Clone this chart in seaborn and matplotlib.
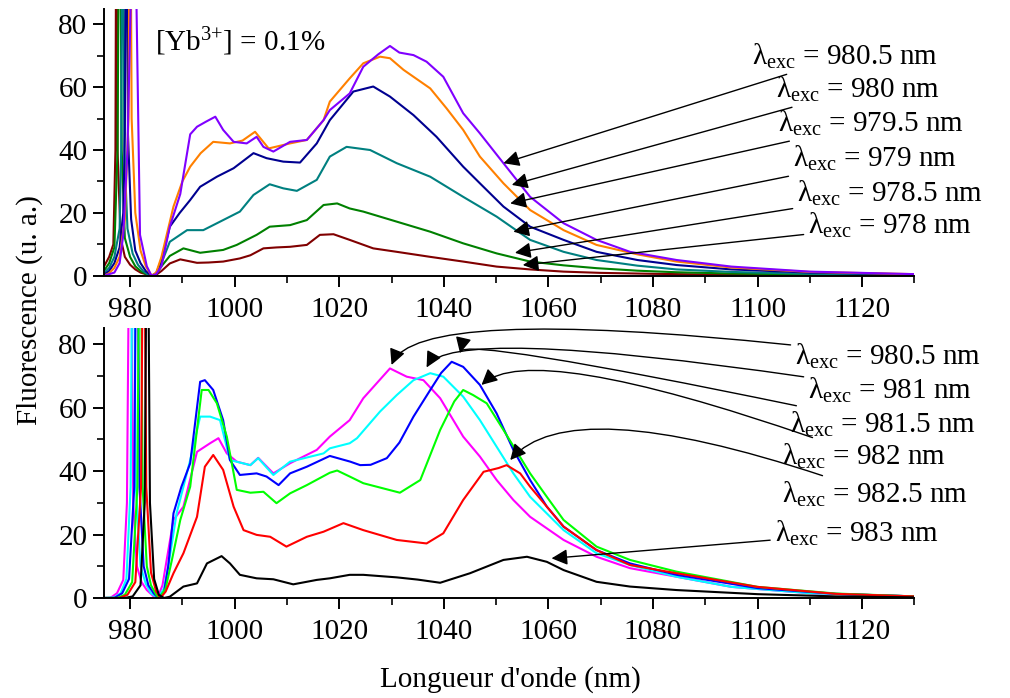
import numpy as np
import pandas as pd
import seaborn as sns
import matplotlib
matplotlib.use("Agg")
import matplotlib.pyplot as plt
from matplotlib.ticker import MultipleLocator

# ---------------- data ----------------
# Top panel: [Yb3+] = 0.1 %, excitation 978 ... 980.5 nm
top_labels = ["978", "978.5", "979", "979.5", "980", "980.5"]
top_colors = ["#800000", "#008000", "#008080", "#000090", "#FF8000", "#8000FF"]

wl_978 = [975, 976, 976.8, 977.2, 977.4, 977.6, 978.2, 979, 980, 981, 982, 983, 984, 985, 986, 987,
          987.6, 989.6, 992.8, 995, 997.8, 1001, 1003, 1005.5, 1008, 1010.6, 1013.8, 1016.3, 1018.9,
          1022, 1026.5, 1031, 1037.4, 1043.7, 1050.1, 1056.5, 1062.9, 1070, 1080, 1090, 1100, 1115, 1130]
fl_978 = [2.9, 6, 10, 40, 150, 40, 12, 6, 3.5, 2, 1, 0.5, 0, 0.3, 1.5, 3,
          3.9, 5.2, 4.1, 4.2, 4.5, 5.5, 6.5, 8.7, 9, 9.2, 9.8, 13, 13.2,
          11.4, 8.7, 7.6, 6, 4.5, 2.9, 2, 1.3, 0.9, 0.6, 0.4, 0.3, 0.2, 0.1]

wl_9785 = [975, 976, 977, 977.6, 978, 978.4, 979, 980, 981, 982, 983, 984.1, 985, 986, 987.6, 990.2,
           993.4, 997.8, 1000.4, 1004.2, 1006.7, 1010.6, 1013.8, 1017, 1019.6, 1022, 1024.6, 1031,
           1037.4, 1043.7, 1050.1, 1056.5, 1062.9, 1069.2, 1077, 1084.5, 1095, 1110, 1130]
fl_9785 = [1.5, 4, 9, 40, 150, 40, 12, 6, 3, 1.5, 0.6, 0, 0.5, 3, 6.3, 8.7,
           7.3, 8.2, 9.8, 13, 15.6, 16.1, 17.7, 22.5, 23, 21.4, 20.4, 17.2,
           14, 10.3, 7.1, 4.5, 3.3, 2.4, 1.6, 1.1, 0.7, 0.4, 0.2]

wl_979 = [975, 976, 977, 978, 978.3, 978.6, 978.9, 979.5, 980.5, 981.5, 982.5, 983.3, 984.1, 985, 986,
          987.6, 990.9, 994, 997.8, 1001, 1003.6, 1006.7, 1009.3, 1011.9, 1015.7, 1018.2, 1021.4,
          1025.9, 1031, 1037.4, 1043.7, 1050.1, 1056.5, 1062.9, 1069.2, 1077, 1084.5, 1095, 1110, 1130]
fl_979 = [0.8, 2.5, 6, 15, 40, 150, 40, 15, 7, 3.5, 1.5, 0.5, 0, 0.8, 4,
          10.8, 14.5, 14.5, 17.7, 20.4, 25.7, 29.1, 27.8, 27, 30.5, 37.9, 41,
          40, 35.8, 31.5, 25.1, 18.8, 11.4, 7.6, 5, 3.2, 2, 1.2, 0.6, 0.3]

wl_9795 = [975, 976, 977, 978, 978.7, 979, 979.3, 979.6, 980.2, 981, 982, 983, 984.1, 985, 986, 987.6,
           989.5, 991.5, 993.4, 996.6, 999.8, 1003.6, 1006.1, 1009.3, 1012.5, 1015.7, 1018.2, 1022.7,
           1026.5, 1029.7, 1034.2, 1038.6, 1043.7, 1046.9, 1051.4, 1056.5, 1062.9, 1069.2, 1077,
           1084.5, 1095, 1110, 1130]
fl_9795 = [0.3, 1.5, 4, 9, 20, 45, 150, 45, 18, 8, 4, 1.5, 0, 0.8, 5, 15.6,
           20, 24.1, 28.3, 31.5, 34.2, 39, 37.4, 36.3, 36, 42.1, 49.5, 58.6,
           60.2, 57, 51.1, 44.2, 34.7, 29.4, 22, 15.6, 11.4, 7.6, 5,
           3.4, 2, 1, 0.4]

wl_980 = [975, 976, 977, 978, 979, 979.7, 980, 980.3, 981, 982, 983, 984.1, 985, 986, 987, 988.3, 990,
          991.5, 993.5, 995.9, 999.1, 1001.5, 1003.9, 1006.5, 1010.6, 1013.8, 1017, 1018.2, 1022,
          1024.6, 1027.8, 1029.7, 1032.3, 1037.4, 1040.5, 1043.7, 1046.9, 1051.4, 1056.5, 1062.9,
          1069.2, 1077, 1084.5, 1095, 1110, 1130]
fl_980 = [0, 0.8, 2.5, 6, 18, 50, 150, 50, 20, 8, 3, 0, 1, 6, 13, 22, 30,
          34.7, 39, 42.6, 42.1, 43, 45.8, 40.5, 42.1, 43.2, 49.5, 55.4, 62.8,
          67.6, 69.7, 69.2, 65.5, 59.6, 53.3, 46.4, 37.9, 29.4, 20.9, 14.5,
          9.8, 6.8, 4.5, 2.6, 1.2, 0.5]

wl_9805t = [975, 977, 978, 978.7, 979.5, 980.3, 980.7, 981.1, 981.9, 983.2, 984.1, 985, 986, 987.6,
            989.6, 991.5, 992.8, 994.5, 996.3, 997.8, 999.8, 1002.3, 1004.2, 1005.5, 1007.4, 1010.6,
            1013.8, 1017, 1018.2, 1022, 1024.6, 1027.5, 1029.7, 1031.5, 1034.2, 1036.7, 1039.9,
            1043.7, 1046.9, 1051.4, 1056.5, 1062.9, 1069.2, 1075.6, 1084.5, 1095, 1110, 1130]
fl_9805t = [0, 1, 4, 13, 40, 100, 150, 100, 13, 3, 0, 0.5, 3, 15.6,
            26, 45, 47.4, 49, 50.6, 46.4, 42.6, 42.1, 44.2, 41, 39.5, 42.6,
            43.2, 49.5, 52.7, 58, 66.5, 70.5, 73.1, 71, 70.2, 68.1, 63.3,
            51.7, 45.3, 35.8, 25.1, 16.7, 11.4, 7.6, 5, 2.9, 1.3, 0.5]

top_wl = [wl_978, wl_9785, wl_979, wl_9795, wl_980, wl_9805t]
top_fl = [fl_978, fl_9785, fl_979, fl_9795, fl_980, fl_9805t]

# Bottom panel: excitation 980.5 ... 983 nm
bot_labels = ["980.5", "981", "981.5", "982", "982.5", "983"]
bot_colors = ["#FF00FF", "#00FFFF", "#0000FF", "#00FF00", "#FF0000", "#000000"]

wl_9805b = [975, 976.2, 977.5, 978.7, 979.4, 980, 980.6, 981.3, 982.2, 983.2, 984.5, 985.3, 986.2,
            987, 988.3, 990.2, 992.8, 995.3, 996.9, 998.5, 1000.4, 1003, 1004.5, 1007.4, 1010.6,
            1015.7, 1018.2, 1022, 1024.6, 1029.7, 1032.9, 1036.1, 1039.3, 1043.7, 1046.9, 1050.1,
            1053.3, 1056.5, 1062.9, 1069.2, 1075.6, 1084.5, 1095, 1110, 1130]
fl_9805b = [0, 0, 1.5, 5.7, 30, 150, 30, 10, 5, 2.5, 0.5, 0.3, 4,
            12, 24.6, 28.8, 46.1, 48.8, 50.4, 45.6, 43, 41.9, 44.2, 39.3, 42.5,
            46.7, 50.9, 56.1, 63, 72.4, 69.8, 68.7, 63, 50.9, 44.6, 37.2,
            30.9, 25.6, 18.3, 13, 9.4, 6.7, 3.5, 1.5, 0.5]

wl_981 = [975, 977, 978.2, 979.3, 980.1, 980.6, 981.1, 982, 983, 984, 985.3, 986.5, 987.5, 988.9,
          991.5, 993.4, 995.3, 997.2, 999.1, 1003, 1004.5, 1007.4, 1010.6, 1017, 1018.2, 1022, 1023.4,
          1027.8, 1031, 1034.2, 1037.4, 1039.9, 1043.7, 1046.9, 1050.1, 1053.3, 1056.5, 1062.9,
          1069.2, 1075.6, 1084.5, 1095, 1110, 1130]
fl_981 = [0, 0.2, 1.5, 6, 35, 150, 35, 10, 4.5, 1.5, 0, 3, 12, 26.7,
          43.5, 57.2, 57.2, 56.1, 43.5, 41.9, 44.1, 38.8, 43, 45.6, 47.2, 48.8, 50.4,
          58.8, 64, 68.7, 70.9, 69.8, 63.5, 56.1, 47.7, 39.3, 31.9, 21.4,
          14.1, 10.4, 6.7, 3.5, 1.5, 0.5]

wl_9815 = [975, 977, 978.5, 979.8, 980.8, 981.3, 981.8, 982.6, 983.5, 984.5, 985.4, 986.5, 987.3,
           988.3, 989.8, 991.5, 993.4, 994.3, 995.9, 997.8, 999.1, 1001, 1004.2, 1006.1, 1008.4,
           1010.6, 1013.8, 1018.2, 1022.1, 1024, 1026, 1029.1, 1031.5, 1034.2, 1037.4, 1039.5,
           1041.5, 1043.7, 1046.9, 1050.1, 1053.3, 1056.5, 1059.7, 1062.9, 1069.2, 1075.6,
           1084.5, 1100, 1115, 1130]
fl_9815 = [0, 0, 1.5, 6, 35, 150, 35, 10, 4, 1.5, 0, 2, 10,
           26.7, 35, 42.5, 68.2, 68.7, 65.6, 56.1, 43.5, 38.8, 39.3, 38.3, 35.6,
           39.3, 41.4, 44.8, 43, 41.9, 42, 44.1, 49, 57.2, 65.6, 71,
           74.5, 72.9, 67.2, 58.2, 46.7, 37.2, 28.8, 22.5, 15.1, 10.9,
           7.3, 3.1, 1.3, 0.5]

wl_982 = [975, 977.5, 979, 980.4, 981.4, 981.9, 982.4, 983.2, 984, 985, 985.6, 986.8, 988, 989.6,
          991.5, 993.7, 995, 996.6, 998.5, 1000.4, 1003, 1005.5, 1008, 1010.6, 1013.8, 1018.2,
          1019.6, 1022, 1024.6, 1031.6, 1035.5, 1039.3, 1042, 1043.7, 1045.6, 1048.2, 1051.4,
          1056.5, 1059.7, 1062.9, 1069.2, 1075.6, 1084.5, 1100, 1115, 1130]
fl_982 = [0, 0, 1, 5, 35, 150, 35, 10, 4, 1, 0, 3, 12, 24.6,
          35.1, 65.6, 65.6, 61.4, 50.9, 34.1, 33.2, 33.5, 29.9, 33, 35.6, 39.5,
          40.2, 38.3, 36.2, 33.2, 37.2, 53, 62, 65.6, 64, 61.4, 53,
          39.3, 31.9, 24.6, 16.2, 12, 8.3, 3.5, 1.4, 0.5]

wl_9825 = [975, 978, 979.5, 981, 982.1, 982.6, 983.1, 984, 985, 985.8, 986.8, 988.3, 990.2, 992.8,
           994.3, 995.9, 997.8, 999.8, 1001.7, 1004.2, 1006.8, 1009.9, 1013.8, 1017, 1020.8, 1024.6,
           1031, 1036.7, 1039.9, 1043.7, 1047.6, 1050.5, 1052, 1054.6, 1056.5, 1059.7, 1062.9,
           1069.2, 1075.6, 1084.5, 1100, 1115, 1130]
fl_9825 = [0, 0, 1, 5, 35, 150, 35, 8, 2, 0, 2, 7.8, 14.1, 25.6,
           41.4, 45.1, 40.4, 28.8, 21.4, 19.9, 19.3, 16.2, 19.3, 20.9, 23.6, 21.4,
           18.3, 17.2, 20.4, 30.9, 39.8, 41, 41.9, 39.3, 35.1, 28.8, 22.5,
           15.1, 10.4, 7.8, 3.5, 1.3, 0.5]

wl_983 = [975, 979, 980.5, 982, 982.8, 983.3, 983.8, 984.6, 985.5, 986.5, 987.6, 990.2, 992.8, 994.7,
          997.5, 999.1, 1001, 1004.2, 1007.4, 1011.2, 1015.7, 1018.2, 1022, 1024.6, 1031, 1035,
          1039.3, 1045, 1051.4, 1055.9, 1059.7, 1062.9, 1069.2, 1075.6, 1084.5, 1100, 1115, 1130]
fl_983 = [0, 0, 0.5, 4, 30, 150, 30, 6, 1, 0, 0.4, 3.6, 4.6, 10.9,
          13.2, 10.9, 7.3, 6.2, 5.9, 4.3, 5.7, 6.2, 7.3, 7.3, 6.5, 5.8,
          4.8, 7.8, 12, 13, 11.4, 8.8, 5.1, 3.6, 2.5, 1.2, 0.5, 0.2]

bot_wl = [wl_9805b, wl_981, wl_9815, wl_982, wl_9825, wl_983]
bot_fl = [fl_9805b, fl_981, fl_9815, fl_982, fl_9825, fl_983]

# annotation tips (wavelength, intensity)
top_tips = [(1055.1, 3.4), (1053.6, 7.3), (1053.3, 14.0), (1052.7, 23.0), (1053.0, 28.9), (1051.4, 35.8)]
top_text = [(1109.7, 16.1), (1107.6, 26.3), (1106.8, 37.2), (1103.9, 48.6), (1103.5, 59.4), (1098.95, 69.9)]
bot_tips = [(1030.0, 73.5), (1036.7, 72.7), (1043.1, 77.2), (1047.2, 67.2), (1052.7, 43.5), (1060.6, 12.5)]
bot_text = [(1107.2, 76.3), (1109.7, 65.6), (1106.2, 54.9), (1104.7, 44.8), (1104.7, 32.8), (1103.3, 20.5)]
bot_conn = ["angle3,angleA=-7,angleB=68", "angle3,angleA=-9,angleB=61", "angle3,angleA=-12,angleB=77",
            "angle3,angleA=-20,angleB=42", "angle3,angleA=-20,angleB=49", "arc3,rad=0"]

# ---------------- style ----------------
sns.set_theme(style="ticks")
plt.rcParams["font.family"] = ["Liberation Serif", "DejaVu Serif"]
plt.rcParams["mathtext.fontset"] = "custom"
plt.rcParams["mathtext.rm"] = "Liberation Serif"
plt.rcParams["mathtext.it"] = "Liberation Serif:italic"
plt.rcParams["mathtext.bf"] = "Liberation Serif:bold"
plt.rcParams["text.color"] = "black"
plt.rcParams["axes.labelcolor"] = "black"
FS = 21

fig = plt.figure(figsize=(10.1, 6.98), dpi=100)
ax1 = fig.add_axes([0.1029, 0.6050, 0.8025, 0.3827])
ax2 = fig.add_axes([0.1029, 0.1433, 0.8025, 0.3861])


def draw(ax, wls, fls, colors, labels):
    for wl, fl, c, lab in zip(wls, fls, colors, labels):
        df = pd.DataFrame({"wl": wl, "fl": fl})
        sns.lineplot(data=df, x="wl", y="fl", ax=ax, color=c, lw=1.5,
                     sort=False, estimator=None, legend=False)


draw(ax1, top_wl, top_fl, top_colors, top_labels)
draw(ax2, bot_wl, bot_fl, bot_colors, bot_labels)

for ax in (ax1, ax2):
    ax.set_xlim(975, 1130)
    ax.set_ylim(0, 85)
    ax.set_xlabel("")
    ax.set_ylabel("")
    ax.xaxis.set_major_locator(MultipleLocator(20))
    ax.xaxis.set_minor_locator(MultipleLocator(10))
    ax.yaxis.set_major_locator(MultipleLocator(20))
    ax.yaxis.set_minor_locator(MultipleLocator(10))
    for s in ("top", "right"):
        ax.spines[s].set_visible(False)
    for s in ("left", "bottom"):
        ax.spines[s].set_linewidth(1.4)
        ax.spines[s].set_color("black")
    ax.tick_params(which="major", direction="out", length=8, width=1.4, labelsize=FS,
                   colors="black", labelcolor="black", pad=4)
    ax.tick_params(axis="x", which="major", pad=7)
    ax.tick_params(which="minor", direction="out", length=5, width=1.2, colors="black")
    ax.set_facecolor("white")

arrow_kw = dict(arrowstyle="-|>", color="black", lw=1.0, mutation_scale=24,
                shrinkA=1, shrinkB=0)


def lam_label(lab):
    return "λ" + r"$_{\mathrm{exc}}$" + " = " + lab + " nm"


for lab, tip, txt in zip(top_labels, top_tips, top_text):
    ax1.annotate(lam_label(lab), xy=tip, xytext=txt, color="black",
                 ha="left", va="center", fontsize=FS,
                 arrowprops=dict(connectionstyle="arc3,rad=0", **arrow_kw))

for lab, tip, txt, cs in zip(bot_labels, bot_tips, bot_text, bot_conn):
    ax2.annotate(lam_label(lab), xy=tip, xytext=txt, color="black",
                 ha="left", va="center", fontsize=FS, annotation_clip=False,
                 arrowprops=dict(connectionstyle=cs, **arrow_kw))

ax1.text(984.8, 74.4, r"[Yb$^{3{+}}$] = 0.1%", fontsize=FS, ha="left", va="center",
         color="black")

fig.text(30 / 1010, 1 - 310 / 698, "Fluorescence (u. a.)", rotation=90,
         fontsize=FS, ha="center", va="center", color="black")
fig.text(510 / 1010, 1 - 680 / 698, "Longueur d'onde (nm)", fontsize=FS,
         ha="center", va="center", color="black")

fig.savefig("out.png", dpi=100, facecolor="white")
